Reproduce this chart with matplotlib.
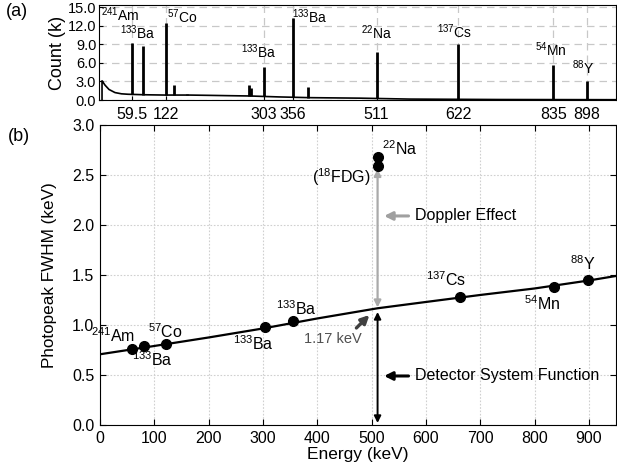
import numpy as np
import matplotlib
matplotlib.use("Agg")
import matplotlib.pyplot as plt

plt.rcParams['font.family'] = ['Liberation Sans', 'DejaVu Sans']
plt.rcParams['mathtext.fontset'] = 'custom'
plt.rcParams['mathtext.rm'] = 'Liberation Sans'
plt.rcParams['mathtext.default'] = 'regular'

# ---------------- (a) spectrum data ----------------
cont_ch = [6, 6, 12, 20, 32, 45, 58, 90, 132, 180, 222, 260, 302, 360, 422, 522, 622, 800, 1036]
cont_k = [0, 3.1, 2.4, 1.7, 1.2, 1.0, 0.93, 0.85, 0.8, 0.8, 0.75, 0.7, 0.65, 0.5, 0.38, 0.3, 0.15, 0.08, 0.05]
peak_ch = [66, 88, 134, 150, 176, 300, 304, 330, 388, 418, 556, 720, 910, 978]
peak_k = [9.2, 8.7, 12.4, 2.4, 1.0, 2.5, 2.0, 5.3, 13.3, 2.1, 7.8, 9.0, 5.6, 3.0]
tick_ch = [66, 134, 330, 388, 556, 720, 910, 978]
tick_lbl = ['59.5', '122', '303', '356', '511', '622', '835', '898']
spec_lbl = ['$^{241}$Am', '$^{133}$Ba', '$^{57}$Co', '$^{133}$Ba', '$^{133}$Ba',
            '$^{22}$Na', '$^{137}$Cs', '$^{54}$Mn', '$^{88}$Y']
spec_lbl_x = [42, 78, 166, 320, 422, 556, 712, 906, 970]
spec_lbl_y = [13.8, 10.8, 13.4, 7.8, 13.4, 10.85, 11.1, 8.2, 5.2]

# ---------------- (b) FWHM data ----------------
pt_E = [59.5, 81, 122, 303, 356, 511, 511, 662, 835, 898]
pt_W = [0.757, 0.79, 0.81, 0.975, 1.043, 2.683, 2.593, 1.275, 1.378, 1.447]
fit_E = [0, 100, 200, 300, 400, 511, 600, 700, 800, 900, 950]
fit_W = [0.707, 0.79, 0.875, 0.965, 1.065, 1.167, 1.23, 1.30, 1.365, 1.445, 1.49]
lbl_txt = ['$^{241}$Am', '$^{133}$Ba', '$^{57}$Co', '$^{133}$Ba', '$^{133}$Ba',
           '$^{22}$Na', '($^{18}$FDG)', '$^{137}$Cs', '$^{54}$Mn', '$^{88}$Y']
lbl_E = [25, 97, 120, 283, 362, 551, 498, 637, 813, 889]
lbl_W = [0.89, 0.65, 0.93, 0.81, 1.16, 2.76, 2.48, 1.45, 1.21, 1.61]
lbl_ha = ['center'] * 6 + ['right'] + ['center'] * 3

fig = plt.figure(figsize=(6.17, 4.74), dpi=100)

# ---------- top panel ----------
ax1 = fig.add_axes([0.1605, 0.789, 0.838, 0.200])
ax1.plot(cont_ch, cont_k, color='black', lw=1.2, zorder=3)
base = np.interp(peak_ch, cont_ch[1:], cont_k[1:])
ax1.vlines(peak_ch, base, peak_k, color='black', lw=2.0, zorder=3)
ax1.set_xlim(0, 1036)
ax1.set_ylim(0, 15.3)
ax1.set_yticks([0, 3, 6, 9, 12, 15])
ax1.set_yticklabels(['0.0', '3.0', '6.0', '9.0', '12.0', '15.0'])
ax1.set_xticks(tick_ch)
ax1.set_xticklabels(tick_lbl)
ax1.tick_params(axis='both', direction='in', length=3)
ax1.tick_params(axis='y', labelsize=10.5, pad=2)
ax1.tick_params(axis='x', labelsize=11.5, pad=5)
ax1.grid(True, color='#c8c8c8', linestyle=(0, (6, 4)), lw=0.9)
ax1.set_ylabel('Count (k)', fontsize=13, labelpad=1)
for t, x, y in zip(spec_lbl, spec_lbl_x, spec_lbl_y):
    ax1.text(x, y, t, fontsize=10, ha='center', va='center', zorder=4)
fig.text(0.010, 0.975, '(a)', fontsize=13, ha='left', va='center')

# ---------- bottom panel ----------
ax2 = fig.add_axes([0.162, 0.1034, 0.8365, 0.633])
ax2.plot(fit_E, fit_W, color='black', lw=1.6, zorder=3)
ax2.plot(pt_E, pt_W, 'o', color='black', ms=7, zorder=4)
ax2.set_xlim(0, 950)
ax2.set_ylim(0, 3.0)
ax2.set_xticks(np.arange(0, 901, 100))
ax2.set_yticks(np.arange(0, 3.01, 0.5))
ax2.set_yticklabels(['0.0', '0.5', '1.0', '1.5', '2.0', '2.5', '3.0'])
ax2.tick_params(axis='both', labelsize=11.5, direction='in', length=4,
                top=True, right=True, pad=4)
ax2.grid(True, color='#d0d0d0', linestyle=(0, (1.5, 1.5)), lw=0.8)
ax2.set_xlabel('Energy (keV)', fontsize=12.5, labelpad=1)
ax2.set_ylabel('Photopeak FWHM (keV)', fontsize=12.3, labelpad=11)
for t, x, y, ha in zip(lbl_txt, lbl_E, lbl_W, lbl_ha):
    ax2.text(x, y, t, fontsize=11.5, ha=ha, va='center', zorder=5)

# arrows
ax2.annotate('', xy=(511, 2.56), xytext=(511, 1.175),
             arrowprops=dict(arrowstyle='<|-|>', color='#aaaaaa', lw=1.6,
                             mutation_scale=10, shrinkA=0, shrinkB=0))
ax2.annotate('', xy=(511, 1.13), xytext=(511, 0.02),
             arrowprops=dict(arrowstyle='<|-|>', color='black', lw=1.4,
                             mutation_scale=10, shrinkA=0, shrinkB=0))
ax2.annotate('', xy=(523, 2.09), xytext=(568, 2.09),
             arrowprops=dict(arrowstyle='-|>', color='#a0a0a0', lw=2.2,
                             mutation_scale=12, shrinkA=0, shrinkB=0))
ax2.text(580, 2.09, 'Doppler Effect', fontsize=11.5, ha='left', va='center')
ax2.annotate('', xy=(523, 0.49), xytext=(568, 0.49),
             arrowprops=dict(arrowstyle='-|>', color='black', lw=2.2,
                             mutation_scale=12, shrinkA=0, shrinkB=0))
ax2.text(580, 0.49, 'Detector System Function', fontsize=11.5, ha='left', va='center')
ax2.annotate('', xy=(496, 1.10), xytext=(472, 0.97),
             arrowprops=dict(arrowstyle='-|>', color='#404040', lw=2.4,
                             mutation_scale=12, shrinkA=0, shrinkB=0))
ax2.text(376, 0.86, '1.17 keV', fontsize=10.5, color='#505050', ha='left', va='center')
fig.text(0.012, 0.713, '(b)', fontsize=13, ha='left', va='center')

fig.savefig('out.png', dpi=100)
